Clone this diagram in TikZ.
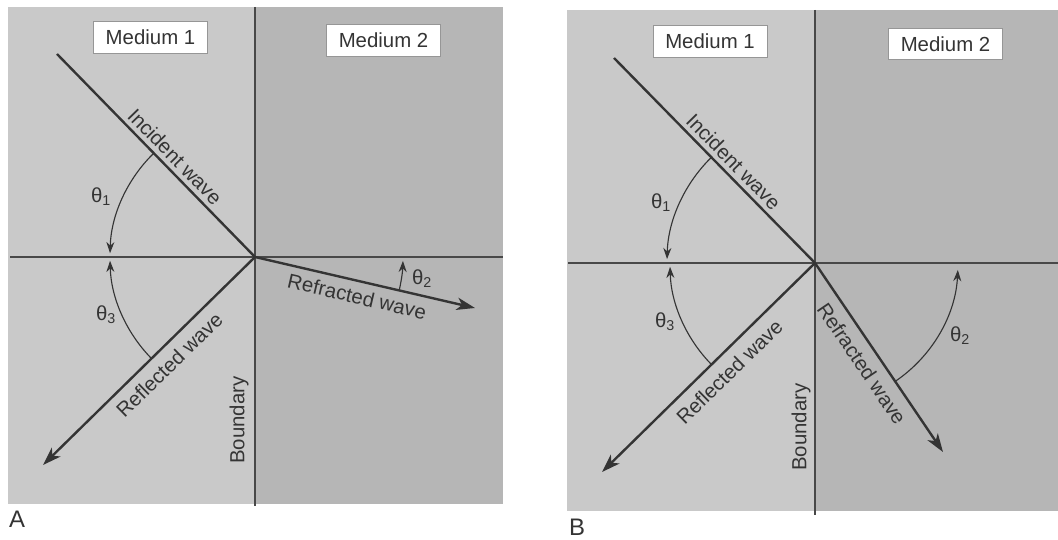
\documentclass[tikz,border=0pt]{standalone}
\usepackage{fontspec}
\setmainfont{Liberation Sans}
\usetikzlibrary{arrows.meta,calc}
\definecolor{mediumone}{RGB}{201,201,201}
\definecolor{mediumtwo}{RGB}{182,182,182}
\definecolor{inkgray}{RGB}{52,52,52}
\definecolor{boxedge}{RGB}{150,150,150}
\tikzset{
  medbox/.style={draw=boxedge,line width=0.6pt,fill=white,minimum width=28.5mm,minimum height=7.8mm,
    inner sep=2pt,font=\fontsize{14.5}{16}\selectfont,text=inkgray},
  wave/.style={-{Stealth[length=4.6mm,width=3.1mm,inset=1.3mm]},line width=1.7pt,draw=inkgray},
  incwave/.style={line width=1.7pt,draw=inkgray},
  refline/.style={line width=0.9pt,draw=inkgray!90},
  angarc/.style={-{Stealth[length=2.8mm,width=2mm]},line width=0.8pt,draw=inkgray},
  wavelabel/.style={font=\fontsize{14.5}{16}\selectfont,text=inkgray,inner sep=1.5pt,sloped},
  anglabel/.style={font=\fontsize{14.5}{16}\selectfont,text=inkgray},
  panellabel/.style={font=\fontsize{17}{20}\selectfont,text=inkgray}
}
\begin{document}
\begin{tikzpicture}[x=0.25mm,y=0.25mm]
  \useasboundingbox (0,0) rectangle (1058,540);
  % panel A
  \fill[mediumone] (8,36) rectangle (255,533);
  \fill[mediumtwo] (255,36) rectangle (503,533);
  \coordinate (oA) at (255,283);
  \coordinate (bdAtop) at (255,533);
  \coordinate (bdAbot) at (255,34);
  \coordinate (hzAl) at (10,283);
  \coordinate (hzAr) at (503,283);
  \draw[refline] (bdAtop) -- (bdAbot);
  \draw[refline] (hzAl) -- (hzAr);
  \node[medbox] (m1A) at (150.5,502.5) {Medium 1};
  \node[medbox] (m2A) at (383.5,499.5) {Medium 2};
  \coordinate (inA) at (57,486);
  \coordinate (rlA) at (43,75);
  \coordinate (rfA) at (475,232);
  \draw[incwave] (inA) -- node[wavelabel,above=1.5pt,pos=0.55] {Incident wave} (oA);
  \draw[wave] (oA) -- node[wavelabel,below=4.4pt,pos=0.46] {Reflected wave} (rlA);
  \draw[wave] (oA) -- node[wavelabel,below=3.3pt,pos=0.48] {Refracted wave} (rfA);
  \draw[angarc] ($(oA)+(134.3:145)$) arc[start angle=134.3,end angle=178.5,radius=36.25mm];
  \draw[angarc] ($(oA)+(224.5:145)$) arc[start angle=224.5,end angle=181.5,radius=36.25mm];
  \draw[angarc] ($(oA)+(-13.05:148)$) arc[start angle=-13.05,end angle=-1.5,radius=37mm];
  \node[anglabel] (t1A) at (101,343) {θ\textsubscript{1}};
  \node[anglabel] (t3A) at (106,225) {θ\textsubscript{3}};
  \node[anglabel] (t2A) at (422,261) {θ\textsubscript{2}};
  \node[anglabel,rotate=90] (bndA) at (239,120) {Boundary};
  \node[panellabel] (labA) at (17,21) {A};
  % panel B
  \fill[mediumone] (567,29) rectangle (815,530);
  \fill[mediumtwo] (815,29) rectangle (1058,530);
  \coordinate (oB) at (815,277);
  \coordinate (bdBtop) at (815,530);
  \coordinate (bdBbot) at (815,25);
  \coordinate (hzBl) at (568,277);
  \coordinate (hzBr) at (1058,277);
  \draw[refline] (bdBtop) -- (bdBbot);
  \draw[refline] (hzBl) -- (hzBr);
  \node[medbox] (m1B) at (710,498.5) {Medium 1};
  \node[medbox] (m2B) at (945.5,496) {Medium 2};
  \coordinate (inB) at (614,482);
  \coordinate (rlB) at (602,68);
  \coordinate (rfB) at (943,88);
  \draw[incwave] (inB) -- node[wavelabel,above=1.5pt,pos=0.55] {Incident wave} (oB);
  \draw[wave] (oB) -- node[wavelabel,below=4.9pt,pos=0.46] {Reflected wave} (rlB);
  \draw[wave] (oB) -- node[wavelabel,below=4.8pt,pos=0.48] {Refracted wave} (rfB);
  \draw[angarc] ($(oB)+(134.4:148)$) arc[start angle=134.4,end angle=178.5,radius=37mm];
  \draw[angarc] ($(oB)+(224.5:145)$) arc[start angle=224.5,end angle=181.5,radius=36.25mm];
  \draw[angarc] ($(oB)+(-55.9:143)$) arc[start angle=-55.9,end angle=-2.8,radius=35.75mm];
  \node[anglabel] (t1B) at (661,337) {θ\textsubscript{1}};
  \node[anglabel] (t3B) at (665,218) {θ\textsubscript{3}};
  \node[anglabel] (t2B) at (960,204) {θ\textsubscript{2}};
  \node[anglabel,rotate=90] (bndB) at (801,113) {Boundary};
  \node[panellabel] (labB) at (577,13) {B};
\end{tikzpicture}
\end{document}
